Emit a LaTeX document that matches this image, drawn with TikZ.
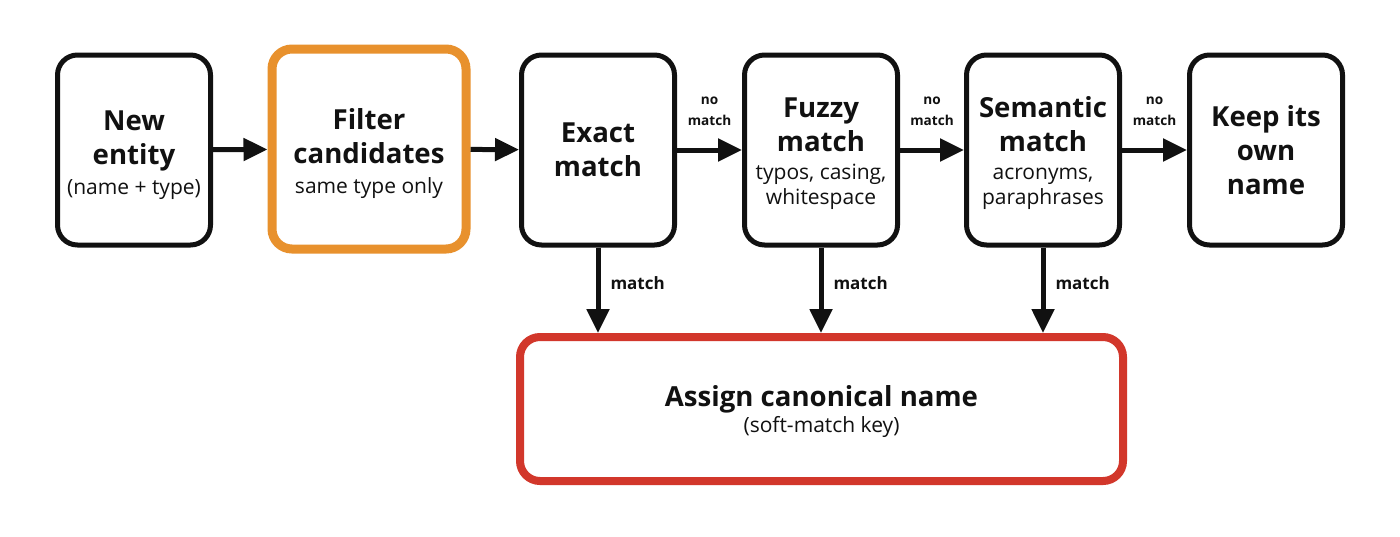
\documentclass[tikz,border=0pt]{standalone}
\usepackage{fontspec}
\setmainfont{Open Sans}
\usetikzlibrary{arrows.meta}
\definecolor{boxorange}{HTML}{E8912D}
\definecolor{boxred}{HTML}{D2372B}
\definecolor{ink}{HTML}{111111}
\newcommand{\ttl}{\bfseries\fontsize{13.8}{17}\selectfont}
\newcommand{\sbt}{\normalfont\fontsize{10.5}{12.5}\selectfont}
\newcommand{\tstrut}{\rule{0pt}{15pt}}
\begin{document}
\begin{tikzpicture}[x=0.5pt,y=-0.5pt,
  stepbox/.style={draw=ink, line width=2.5pt, rounded corners=10pt, fill=white,
    minimum width=76.5pt, minimum height=95pt, align=center, inner sep=2pt,
    text=ink, font=\ttl},
  filterbox/.style={stepbox, draw=boxorange, line width=4.5pt, minimum width=97pt, minimum height=100pt},
  resultbox/.style={stepbox, draw=boxred, line width=4pt, minimum width=301.5pt, minimum height=72pt},
  arr/.style={draw=ink, line width=2.5pt, -{Triangle[length=12pt,width=11pt]}},
  lbl/.style={font=\bfseries\fontsize{8.5}{10}\selectfont, text=ink, align=center, inner sep=1pt},
  nolbl/.style={font=\bfseries\fontsize{6.8}{10.5}\selectfont, text=ink, align=center, inner sep=1pt}
]
\useasboundingbox (0,0) rectangle (1400,536);
\fill[white] (0,0) rectangle (1400,536);
\node[stepbox] (b1) at (134,150) {\tstrut New\\entity\\[-2pt]\sbt (name + type)};
\node[filterbox] (b2) at (369,149) {\tstrut Filter\\candidates\\[-2pt]\sbt same type only};
\node[stepbox] (b3) at (598,150) {Exact\\match};
\node[stepbox] (b4) at (821,150) {\rule{0pt}{13.5pt}Fuzzy\\match\\[-3pt]\sbt typos, casing,\\[-4.5pt]\sbt whitespace};
\node[stepbox] (b5) at (1043,150) {\rule{0pt}{13.5pt}Semantic\\match\\[-3pt]\sbt acronyms,\\[-4.5pt]\sbt paraphrases};
\node[stepbox] (b6) at (1266,150) {Keep its\\own\\name};
\node[resultbox] (r) at (821.5,409) {\rule{0pt}{13.5pt}Assign canonical name\\[-4pt]\sbt (soft-match key)};
\draw[arr] (b1) -- (b2);
\draw[arr] (b2) -- (b3);
\draw[arr] (b3) -- node[nolbl, above=10pt] {no\\match} (b4);
\draw[arr] (b4) -- node[nolbl, above=10pt] {no\\match} (b5);
\draw[arr] (b5) -- node[nolbl, above=10pt] {no\\match} (b6);
\foreach \b in {b3,b4,b5}{
  \draw[arr] (\b.south) -- node[lbl, right=4pt, pos=0.42] {match} (\b.south |- r.north);
}
\end{tikzpicture}
\end{document}
